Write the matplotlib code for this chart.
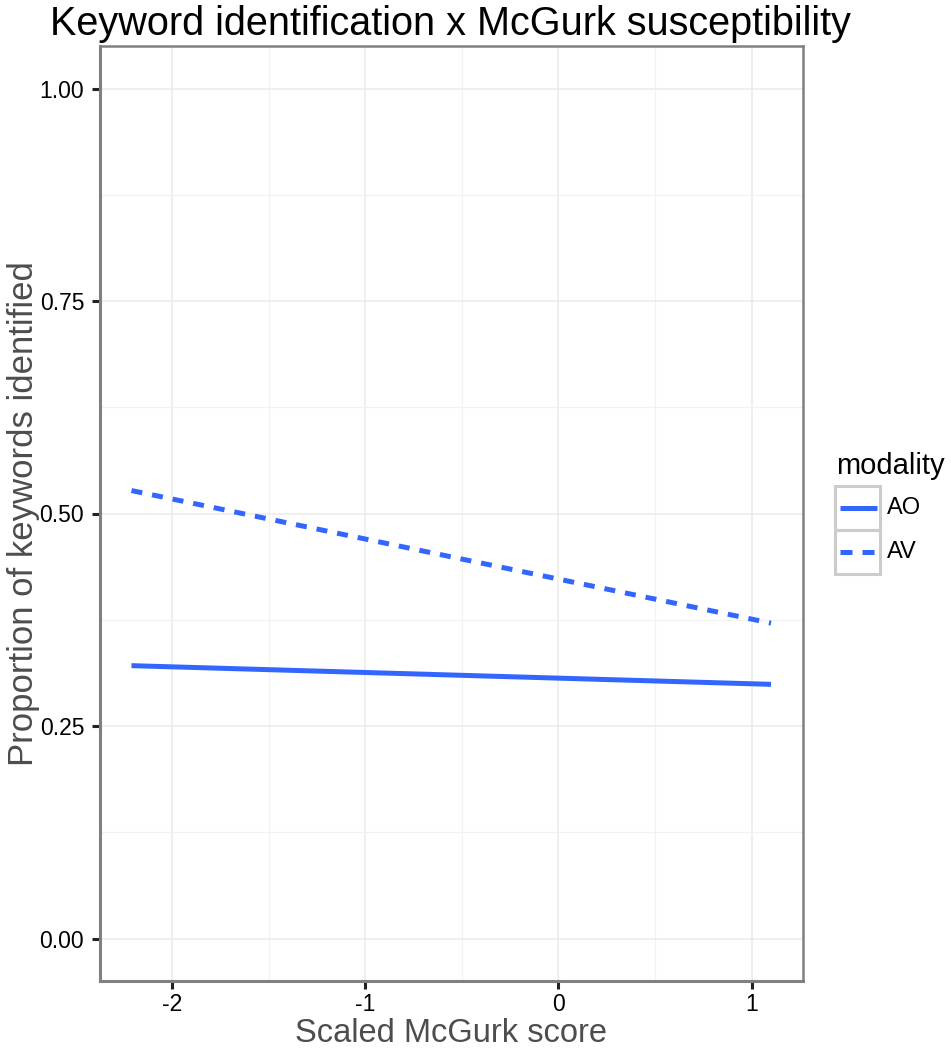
import matplotlib
matplotlib.use("Agg")
import matplotlib.pyplot as plt
from matplotlib.patches import Rectangle
from matplotlib.ticker import MultipleLocator

plt.rcParams['font.family'] = ['Liberation Sans', 'DejaVu Sans']

# fitted lines (endpoints of each modality)
mcgurk = [-2.21, 1.10]
ao = [0.321, 0.299]
av = [0.527, 0.371]
modalities = ["AO", "AV"]
x_ticks = [-2, -1, 0, 1]
y_ticks = [0.00, 0.25, 0.50, 0.75, 1.00]

BLUE = "#3366FF"
W, H = 951, 1050

fig = plt.figure(figsize=(W / 100, H / 100), dpi=100)
ax = fig.add_axes([99.5 / W, 1 - 981 / H, (803 - 99.5) / W, (981 - 46) / H])

ax.plot(mcgurk, ao, color=BLUE, lw=3.6, solid_capstyle="butt", zorder=3)
ax.plot(mcgurk, av, color=BLUE, lw=3.6, linestyle=(0, (2.2, 2.0)),
        dash_capstyle="butt", zorder=3)

span = mcgurk[1] - mcgurk[0]
ax.set_xlim(mcgurk[0] - 0.05 * span, mcgurk[1] + 0.05 * span)
ax.set_ylim(-0.05, 1.05)
ax.set_xticks(x_ticks)
ax.set_xticklabels([str(t) for t in x_ticks])
ax.set_yticks(y_ticks)
ax.set_yticklabels(["%.2f" % t for t in y_ticks])
ax.xaxis.set_minor_locator(MultipleLocator(0.5))
ax.yaxis.set_minor_locator(MultipleLocator(0.125))

ax.grid(which="major", color="#ebebeb", lw=1.1, zorder=0)
ax.grid(which="minor", color="#f2f2f2", lw=0.9, zorder=0)
ax.set_axisbelow(True)

ax.tick_params(which="major", length=6, width=2.2, color="#222222",
               labelsize=16.5, labelcolor="black", pad=5)
ax.tick_params(axis="x", which="major", pad=2.5)
ax.tick_params(which="minor", length=0)
for side, sp in ax.spines.items():
    sp.set_color("#808080")
    sp.set_linewidth(2.2 if side in ("left", "bottom") else 1.8)

ax.set_xlabel("Scaled McGurk score", fontsize=23.5, color="#4d4d4d", va="top")
ax.xaxis.set_label_coords(0.5, (981 - 1018) / (981 - 46))
ax.set_ylabel("Proportion of keywords identified", fontsize=25,
              color="#4d4d4d", va="center")
ax.yaxis.set_label_coords((24 - 99.5) / (803 - 99.5), 0.5)

fig.text(451 / W, 1 - 24 / H, "Keyword identification x McGurk susceptibility",
         fontsize=28.5, ha="center", va="center", color="black")

# legend drawn in pixel space
lg = fig.add_axes([0, 0, 1, 1], zorder=5)
lg.set_xlim(0, W)
lg.set_ylim(H, 0)
lg.axis("off")
lg.text(836, 466, "modality", fontsize=21, va="center", ha="left")
styles = ["-", (0, (2.4, 2.0))]
for i, (name, ls) in enumerate(zip(modalities, styles)):
    y0 = 486 + i * 44
    lg.add_patch(Rectangle((835, y0), 45, 44, fill=False, ec="#cccccc", lw=2.2))
    lg.plot([840, 877], [y0 + 22, y0 + 22], color=BLUE, lw=3.6,
            linestyle=ls, dash_capstyle="butt", solid_capstyle="butt")
    lg.text(887, y0 + 22, name, fontsize=17, va="center", ha="left")

fig.savefig("out.png", dpi=100)
